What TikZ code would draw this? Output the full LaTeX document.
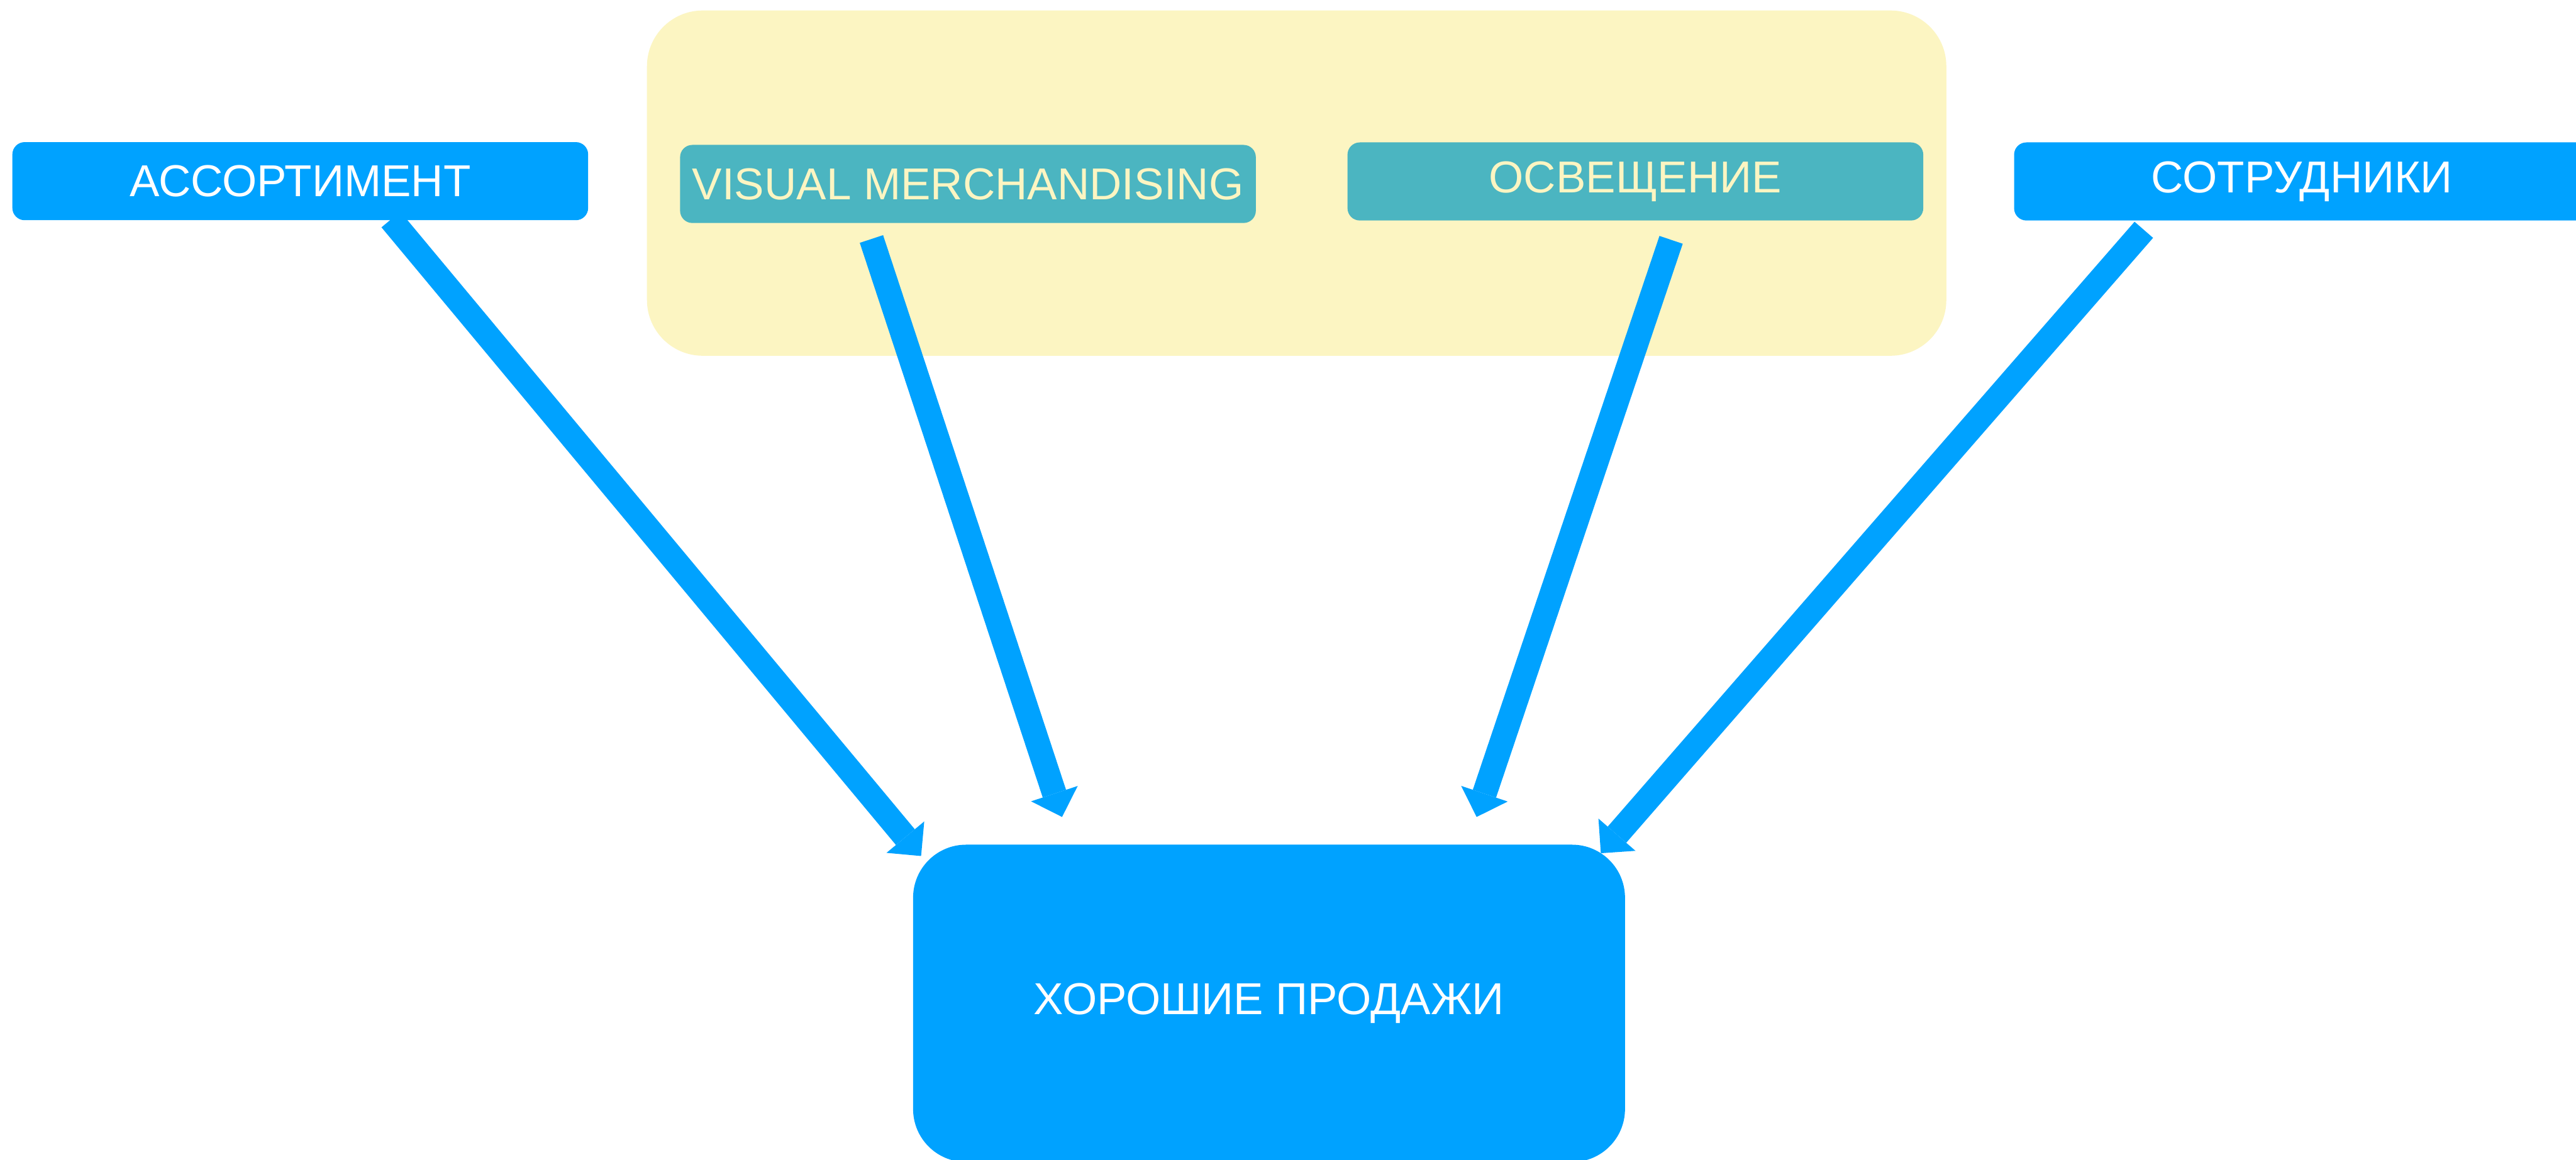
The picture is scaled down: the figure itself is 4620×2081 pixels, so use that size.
\documentclass[tikz,border=0pt]{standalone}
\usepackage{fontspec}
\setmainfont{Liberation Sans}
\usetikzlibrary{arrows.meta}
\definecolor{salesblue}{HTML}{00A2FF}
\definecolor{vmteal}{HTML}{4BB5C1}
\definecolor{paleyellow}{HTML}{FCF5C2}
\begin{document}
\begin{tikzpicture}[x=0.01cm,y=-0.01cm,
    factor/.style={fill=salesblue,text=white,rounded corners=0.22cm,inner sep=0pt,
        minimum width=10.32cm,minimum height=1.4cm,font=\fontsize{22.8pt}{27pt}\selectfont},
    visual/.style={factor,fill=vmteal,text=paleyellow},
    flow/.style={draw=salesblue,line width=0.44cm,
        -{Triangle[length=0.44cm,width=0.88cm,line width=0pt]}}]
    \clip (0,0) rectangle (4620,2081);
    \fill[white] (0,0) rectangle (4620,2081);
    % group around the shop-floor factors
    \node[fill=paleyellow,rounded corners=1cm,minimum width=23.29cm,minimum height=6.19cm] (store) at (2325.5,328.5) {};
    \node[factor] (assort) at (538.5,325) {АССОРТИМЕНТ};
    \node[visual] (vm) at (1736,330) {VISUAL MERCHANDISING};
    \node[visual] (light) at (2933,325.5) {ОСВЕЩЕНИЕ};
    \node[factor] (staff) at (4128.5,325.5) {СОТРУДНИКИ};
    \node[factor,rounded corners=0.95cm,minimum width=12.76cm,minimum height=5.69cm] (sales) at (2276,1800) {ХОРОШИЕ ПРОДАЖИ};
    % arrows into sales
    \draw[flow] ([xshift=1.625cm,yshift=0.02cm]assort.south) -- ([xshift=0.15cm,yshift=-0.21cm]sales.north west);
    \draw[flow] ([xshift=-1.73cm,yshift=-0.28cm]vm.south) -- ([xshift=-3.71cm,yshift=0.49cm]sales.north);
    \draw[flow] ([xshift=0.64cm,yshift=-0.34cm]light.south) -- ([xshift=3.72cm,yshift=0.49cm]sales.north);
    \draw[flow] ([xshift=-2.835cm,yshift=-0.16cm]staff.south) -- ([xshift=-0.44cm,yshift=-0.16cm]sales.north east);
\end{tikzpicture}
\end{document}
